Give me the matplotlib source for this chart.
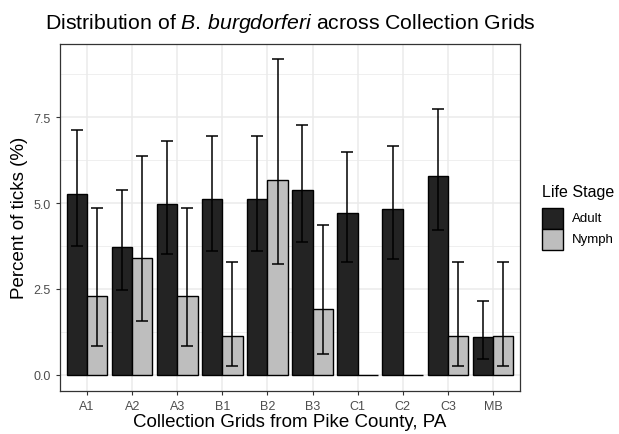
import numpy as np
import matplotlib
matplotlib.use("Agg")
import matplotlib.pyplot as plt
from matplotlib.patches import Rectangle

plt.rcParams['font.family'] = ['Liberation Sans', 'DejaVu Sans']
plt.rcParams['mathtext.fontset'] = 'custom'
plt.rcParams['mathtext.it'] = 'Liberation Sans:italic'
plt.rcParams['mathtext.rm'] = 'Liberation Sans'

# data
grids = ['A1', 'A2', 'A3', 'B1', 'B2', 'B3', 'C1', 'C2', 'C3', 'MB']
adult = [5.26, 3.73, 4.98, 5.11, 5.11, 5.38, 4.70, 4.83, 5.80, 1.10]
adult_lo = [3.74, 2.47, 3.51, 3.61, 3.61, 3.86, 3.28, 3.38, 4.21, 0.47]
adult_hi = [7.13, 5.38, 6.81, 6.96, 6.96, 7.28, 6.48, 6.65, 7.74, 2.16]
nymph = [2.28, 3.41, 2.28, 1.13, 5.67, 1.91, 0.0, 0.0, 1.13, 1.13]
nymph_lo = [0.84, 1.57, 0.84, 0.24, 3.22, 0.61, np.nan, np.nan, 0.24, 0.24]
nymph_hi = [4.87, 6.37, 4.87, 3.28, 9.19, 4.36, np.nan, np.nan, 3.28, 3.28]
stages = ['Adult', 'Nymph']

adult_col = '#232323'
nymph_col = '#bebebe'

W, H = 619, 435
fig = plt.figure(figsize=(W/100, H/100), dpi=100)
ax = fig.add_axes([60/W, 43.5/H, 460/W, 347/H])

x = np.arange(1, len(grids) + 1)
w = 0.45

ax.bar(x - w/2, adult, width=w, color=adult_col, edgecolor='black', linewidth=1, zorder=3)
ax.bar(x + w/2, nymph, width=w, color=nymph_col, edgecolor='black', linewidth=1, zorder=3)

def errs(xs, mid, lo, hi):
    mid, lo, hi = np.array(mid), np.array(lo), np.array(hi)
    ok = ~np.isnan(lo)
    ax.errorbar(xs[ok], mid[ok], yerr=[mid[ok] - lo[ok], hi[ok] - mid[ok]],
                fmt='none', ecolor='black', elinewidth=1.1, capsize=4,
                capthick=1.1, zorder=4)

errs(x - w/2, adult, adult_lo, adult_hi)
errs(x + w/2, nymph, nymph_lo, nymph_hi)

ax.set_xlim(0.4, 10.6)
ax.set_ylim(-0.46, 9.65)
ax.set_xticks(x)
ax.set_xticklabels(grids)
ax.set_yticks([0, 2.5, 5.0, 7.5])
ax.set_yticklabels(['0.0', '2.5', '5.0', '7.5'])
ax.set_yticks([1.25, 3.75, 6.25, 8.75], minor=True)
ax.grid(True, which='major', color='#ebebeb', linewidth=1.1, zorder=0)
ax.grid(True, which='minor', axis='y', color='#ebebeb', linewidth=0.55, zorder=0)
ax.set_axisbelow(True)
ax.tick_params(axis='both', which='major', length=3, width=0.8, color='#333333',
               labelcolor='#4d4d4d', labelsize=9)
ax.tick_params(axis='y', which='minor', length=0)
for s in ax.spines.values():
    s.set_color('#333333')
    s.set_linewidth(0.9)

ax.set_xlabel('Collection Grids from Pike County, PA', fontsize=13.5, labelpad=1)
ax.set_ylabel('Percent of ticks (%)', fontsize=13.5, labelpad=4)
ax.set_title(r'Distribution of $\it{B.\,burgdorferi}$ across Collection Grids',
             fontsize=15.3, pad=11)

# legend, laid out by hand in figure pixels
fig.text(542/W, 1 - 193/H, 'Life Stage', fontsize=11.5, va='center', ha='left')
for i, (lab, col) in enumerate(zip(stages, [adult_col, nymph_col])):
    top = 209 + 21*i
    fig.patches.append(Rectangle((542/W, 1 - (top + 21)/H), 21/W, 21/H,
                                 facecolor=col, edgecolor='black', linewidth=1,
                                 transform=fig.transFigure, figure=fig))
    fig.text(572/W, 1 - (top + 10.5)/H, lab, fontsize=9.5, va='center', ha='left')

fig.savefig('out.png', dpi=100)
